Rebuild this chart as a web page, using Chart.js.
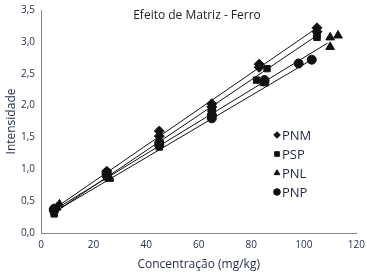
<!DOCTYPE html>
<html><head><meta charset="utf-8">
<script src="https://cdn.jsdelivr.net/npm/chart.js@4.4.1/dist/chart.umd.min.js"></script>
<style>html,body{margin:0;padding:0;background:#fff}#w{width:367px;height:276px;position:relative}</style>
</head><body><div id="w"><canvas id="c"></canvas></div>
<script>
const seriesNames = ["PNM","PSP","PNL","PNP"];
const pointStyles = ["rectRot","rect","triangle","circle"];
const pnmX = [5,5,25,25,45,45,65,65,83,83,105,105];
const pnmY = [0.38,0.35,0.97,0.93,1.6,1.52,2.03,1.98,2.65,2.6,3.22,3.16];
const pspX = [5,5,25,25,45,45,65,65,82,86,105,105];
const pspY = [0.3,0.33,0.88,0.9,1.35,1.4,1.95,1.98,2.4,2.58,3.07,3.1];
const pnlX = [6,7,26,26,45,45,65,65,85,85,110,110,113];
const pnlY = [0.4,0.45,0.85,0.88,1.4,1.44,1.95,1.9,2.35,2.38,2.92,3.07,3.1];
const pnpX = [5,5,25,25,45,45,65,65,85,85,98,103];
const pnpY = [0.35,0.38,0.9,0.95,1.38,1.42,1.8,1.85,2.38,2.4,2.66,2.72];
// trendline endpoints
const trendX = [[5,105],[5,105],[5,109],[5,103]];
const trendY = [[0.38,3.22],[0.32,3.1],[0.36,2.98],[0.33,2.72]];
const xTicksMax = 120, yTicksMax = 3.5;
const titleText = "Efeito de Matriz - Ferro";
const xTitle = "Concentração (mg/kg)";
const yTitle = "Intensidade";

const xs=[pnmX,pspX,pnlX,pnpX], ys=[pnmY,pspY,pnlY,pnpY];
const radii=[5,4.5,5,4.5];
const datasets=[];
for(let i=0;i<4;i++){
  datasets.push({type:'scatter',label:seriesNames[i],data:xs[i].map((x,j)=>({x,y:ys[i][j]})),
    pointStyle:pointStyles[i],pointRadius:radii[i],backgroundColor:'#111',borderColor:'#111',borderWidth:1,order:1});
  datasets.push({type:'line',label:'_t'+i,data:trendX[i].map((x,j)=>({x,y:trendY[i][j]})),
    borderColor:'#111',borderWidth:1,pointRadius:0,fill:false,order:2});
}
const font="'Open Sans', sans-serif";
const txt='#1f2a44';
const overlay={id:'overlay',afterDraw(ch){
  const c=ch.ctx;
  c.save();
  c.fillStyle='#222';c.font="12px "+font;c.textAlign='center';c.textBaseline='middle';
  c.fillText(titleText,197,16);
  const lx=277, ly0=135, dy=19;
  for(let i=0;i<4;i++){
    const y=ly0+i*dy;
    c.fillStyle='#111';c.strokeStyle='#111';c.lineWidth=1;
    Chart.helpers.drawPoint(c,{pointStyle:pointStyles[i],radius:3.3,borderWidth:1},lx,y);
    c.fillStyle=txt;c.textAlign='left';c.font="13px "+font;
    c.fillText(seriesNames[i],lx+5,y+1);
  }
  c.restore();
}};
new Chart(document.getElementById('c'),{
  data:{datasets},
  options:{responsive:true,maintainAspectRatio:false,animation:false,
    layout:{padding:{top:10,right:10,left:0,bottom:0}},
    plugins:{legend:{display:false},tooltip:{enabled:false}},
    scales:{
      x:{type:'linear',min:0,max:xTicksMax,grid:{display:false,drawTicks:true,tickLength:4,color:'#888'},
        border:{color:'#888',width:1},
        ticks:{stepSize:20,color:txt,font:{family:font,size:10},padding:2},
        title:{display:true,text:xTitle,color:txt,font:{family:font,size:12},padding:{top:2}},
        afterFit(s){s.height=43;}},
      y:{type:'linear',min:0,max:yTicksMax,grid:{display:false,tickLength:4,color:'#888'},
        border:{color:'#888',width:1},
        ticks:{stepSize:0.5,color:txt,font:{family:font,size:10},padding:2,
          callback:v=>v.toFixed(1).replace('.',',')},
        title:{display:true,text:yTitle,color:txt,font:{family:font,size:12},padding:{bottom:2}},
        afterFit(s){s.width=41;}}
    }},
  plugins:[overlay]
});
</script></body></html>
